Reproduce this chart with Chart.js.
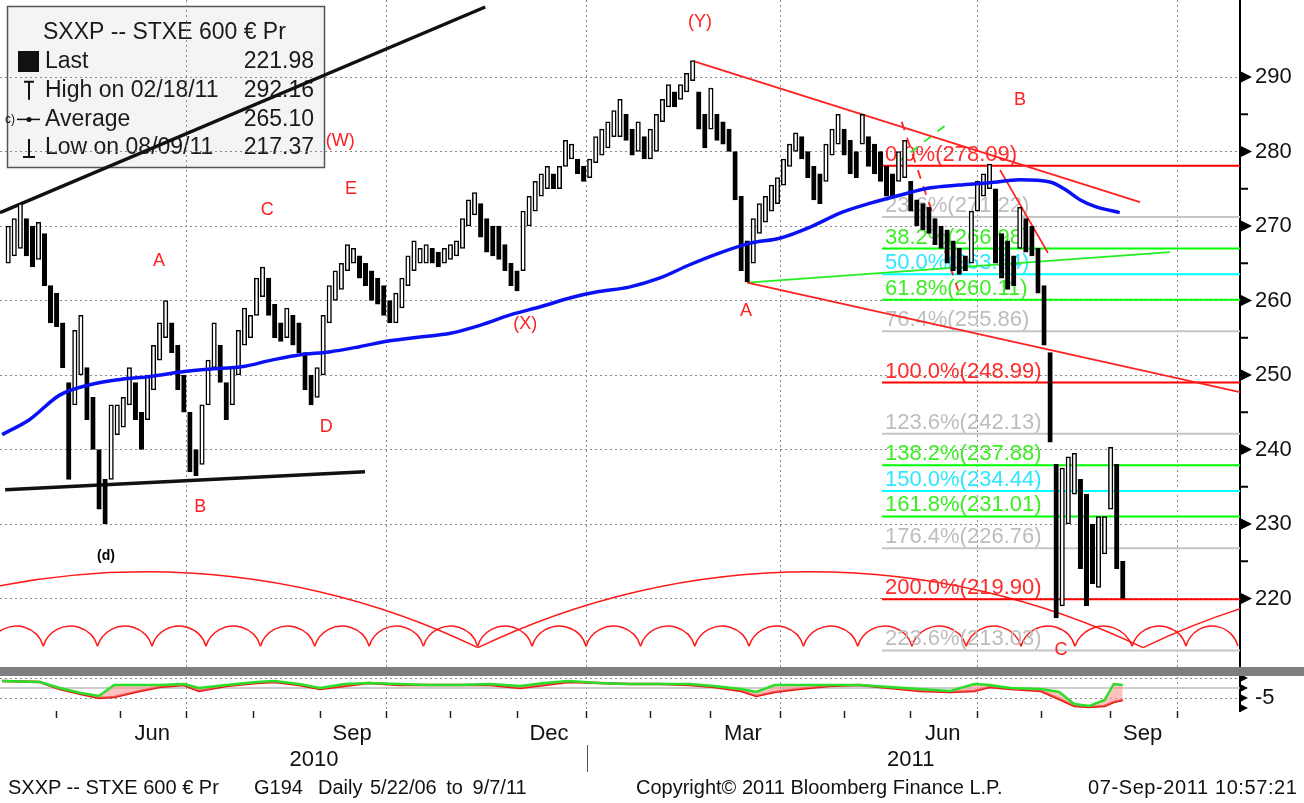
<!DOCTYPE html>
<html>
<head>
<meta charset="utf-8">
<title>SXXP -- STXE 600</title>
<script src="https://cdn.jsdelivr.net/npm/chart.js@4.4.1/dist/chart.umd.min.js"></script>
<style>
  html, body { margin: 0; padding: 0; background: #fff; }
  body { width: 1304px; height: 803px; position: relative; overflow: hidden; font-family: "Liberation Sans", Arial, sans-serif; }
  #priceBox { position: absolute; left: 0; top: 0; width: 1304px; height: 668px; }
  #lowerBox { position: absolute; left: 0; top: 668px; width: 1304px; height: 135px; }
  #splitBar { position: absolute; left: 0; top: 667px; width: 1304px; height: 9px; background: #7f7f7f; }
  .foot { position: absolute; top: 776px; font-size: 20px; color: #111; white-space: nowrap; }
</style>
</head>
<body>
<div id="priceBox"><canvas id="priceChart"></canvas></div>
<div id="lowerBox"><canvas id="lowerChart"></canvas></div>
<div id="splitBar"></div>
<div class="foot" style="left:8px">SXXP -- STXE 600 € Pr</div>
<div class="foot" style="left:254px">G194</div>
<div class="foot" style="left:318px">Daily</div>
<div class="foot" style="left:370px; word-spacing:4px">5/22/06 to 9/7/11</div>
<div class="foot" style="left:636px">Copyright© 2011 Bloomberg Finance L.P.</div>
<div class="foot" style="left:1088px; letter-spacing:0.6px">07-Sep-2011 10:57:21</div>
<script>
// x values are weekday sessions counted from Wed 7 Apr 2010 (session 0)
var firstSession = 2;
var sessionStep = 2;

// high / low of every 2-session step
var priceHigh = [
  270, 271, 273, 271, 270, 270.5, 269, 262, 261, 257, 249, 256, 258, 251, 247, 240, 236, 246, 246, 247,
  251, 249, 245, 250, 254, 257, 260, 257, 254, 250, 245, 240, 246, 252, 257, 254, 249, 251, 256, 259,
  258, 263, 264.5, 263, 259.5, 257, 259, 258, 257, 253, 250, 251, 258, 262, 264, 265, 267.5, 267, 266, 265,
  264, 263, 262, 260, 261, 263, 266, 268, 267, 267.5, 267, 266.5, 267, 267.5, 268, 271, 273.5, 274.5, 273, 271,
  270, 270, 267.5, 265, 264, 272, 274, 276, 277, 278, 277, 278, 281.5, 281, 279, 278, 279, 282, 283, 284,
  285.5, 287, 285, 283, 284, 282, 283, 285, 287, 289, 288, 289, 290.5, 292.2, 288, 285, 288.5, 285, 284, 283,
  280, 274, 268, 271, 273, 274, 275.5, 276.5, 279, 281, 282.5, 282, 280, 278, 277, 281, 283, 285, 283, 281.5,
  280, 285, 282, 281, 280, 278, 277, 280, 281.5, 276, 273.5, 273, 272.5, 271, 270, 269.5, 268, 267, 266, 272,
  276, 277, 278.3, 275, 269, 268, 266, 272.5, 271, 270, 267, 262, 253, 238, 237.5, 239, 239.5, 236, 234, 230,
  231, 231, 240.3, 238, 225
];
var priceLow = [
  265, 266, 267, 266, 264.5, 265.5, 262, 257, 256.5, 251, 236, 246, 250, 244, 240, 232, 230, 236, 242, 243,
  246, 244, 240, 244, 248, 252, 255, 253, 248, 245, 237, 236.5, 238, 246, 251, 249, 244, 246, 250, 254,
  255, 258, 260.5, 258, 255, 254.5, 255, 254, 253, 248, 246, 247, 250, 257, 260, 261.5, 264, 265, 263, 262,
  260, 259.5, 258, 257, 257, 259, 262, 264, 265, 265, 265, 264.5, 265, 265.5, 266, 267, 270, 271.5, 268.5, 266.5,
  266, 265.5, 264, 262, 261.3, 264, 270, 272, 274, 275, 275, 275, 278, 279, 277, 276, 276.5, 278.5, 279.5, 280.5,
  282, 282, 281.5, 279.5, 280, 279, 279, 280, 284, 286, 286, 287, 288, 289.5, 283, 280.5, 283, 281.5, 281, 280,
  273.5, 264, 262.5, 265, 269, 270.5, 272, 273, 275.5, 278, 280, 279, 276.5, 273.5, 273, 276, 279.5, 281, 279.5, 277,
  276.5, 281, 278, 277, 276, 274, 274, 276, 276.5, 272, 270, 269.5, 269, 267.5, 267, 265, 264, 263.5, 264, 265,
  272, 274, 275, 265, 263, 261.5, 262, 267, 266.5, 266, 261, 254, 241, 217.4, 219, 230, 234, 224, 219, 222,
  221.5, 226, 232, 224, 220
];

// 200 day moving average
var maSessions = [0, 9, 19, 29, 39, 49, 59, 69, 79, 89, 98, 108, 118, 128, 138, 148, 158, 168, 178, 188,
  197, 207, 217, 227, 237, 247, 257, 267, 277, 287, 297, 306, 316, 326, 336, 346, 351, 356, 361, 369];
var maValues = [242, 244, 247.3, 248.7, 249.4, 249.8, 250.4, 250.8, 251.1, 252, 252.7, 253.1, 253.8, 254.6, 255.1, 255.6, 256.7, 258.1, 259.2, 260.4,
  261.2, 261.8, 263, 264.8, 266.4, 267.7, 268.4, 269.9, 271.8, 273.1, 274.2, 275.1, 275.5, 275.8, 276.2, 275.9, 274.9, 273.5, 272.6, 271.8];

var monthSessions = [18, 39, 61, 83, 105, 127, 148, 170, 193, 214, 234, 257, 278, 300, 322, 343, 366, 388];
var monthNames = ['May', 'Jun', 'Jul', 'Aug', 'Sep', 'Oct', 'Nov', 'Dec', 'Jan', 'Feb', 'Mar', 'Apr', 'May', 'Jun', 'Jul', 'Aug', 'Sep', 'Oct'];
var labelMonths = ['Mar', 'Jun', 'Sep', 'Dec'];
var quarterSessions = [61, 127, 193, 257, 322, 388];
var yearNames = ['2010', '2011'];
var yearSessions = [103, 300];
var yearBreak = 193;
var sessionMin = -0.7;
var sessionMax = 408.7;

var priceTicks = [220, 230, 240, 250, 260, 270, 280, 290];
var priceMinor = [225, 235, 245, 255, 265, 275, 285];

var fibPct = [0, 23.6, 38.2, 50, 61.8, 76.4, 100, 123.6, 138.2, 150, 161.8, 176.4, 200, 223.6];
var fibLevels = [278.09, 271.22, 266.98, 263.54, 260.11, 255.86, 248.99, 242.13, 237.88, 234.44, 231.01, 226.76, 219.90, 213.03];
var fibStart = 290.5;

// hand drawn lines [session, price]
var channelTop = [[-0.7, 271.8], [159.5, 299.4]];
var channelBottom = [[1, 234.6], [119.8, 237.0]];
var fallFromY = [[228.5, 292.1], [375.7, 273.2]];
var fallFromA = [[246, 262.4], [408.7, 247.7]];
var riseFromA = [[246, 262.4], [385.6, 266.5]];
var julyLine = [[329.5, 277.5], [345.3, 266.4]];
var mayDash = [[297, 284], [315.6, 261.4]];
var mayGreenDash = [[295.5, 278.5], [311.7, 283.6]];

var waveText = ['(Y)', '(W)', 'E', 'C', 'A', 'D', 'B', '(X)', 'A', 'B', 'C'];
var waveSessions = [230.4, 111.6, 115.2, 87.5, 51.8, 107, 65.4, 172.7, 245.6, 336.1, 349.6];
var wavePrices = [297.4, 281.4, 274.9, 272.2, 265.3, 243.0, 232.3, 256.9, 258.6, 286.9, 213.1];
var cycleTag = '(d)';
var cycleTagSession = 34.3;
var cycleTagPrice = 225.7;

// cycle troughs
var smallCycles = [-4.3, 13.6, 31.5, 49.5, 67.3, 85.3, 103.2, 121.2, 139.1, 157, 175, 192.8, 210.8, 228.7,
  246.6, 264.6, 282.5, 300.4, 318.3, 336.4, 354.2, 373.1, 390.9, 408];
var smallCycleLow = 213.6;
var smallCycleTop = 216.3;
var bigCycles = [-62.4, 157.1, 376.7, 596];
var bigCycleLow = 213.4;
var bigCycleTop = 223.6;

// lower study
var lowerSessions = [0, 12.5, 19, 26, 32, 37, 44, 52, 60, 65, 74, 84, 90, 98, 105, 113, 121, 131, 141, 151,
  161, 171, 179, 187, 197, 207, 217, 227, 235, 244, 249, 255, 263, 273, 283, 293, 303, 313, 321, 326,
  333, 343, 349, 354, 359, 364, 367, 370];
var lowerRed = [-0.75, -1, -2.75, -4, -5, -4.75, -3.5, -2.25, -1.75, -3.25, -2, -1.25, -1, -1.75, -2.75, -2, -1.25, -1.75, -1.75, -1.75,
  -1.75, -2.5, -1.75, -1, -1.25, -1.5, -1.5, -1.75, -2.25, -3.25, -4.5, -3.5, -2.75, -2, -1.75, -2.5, -3.25, -3.5, -3.25, -2.25,
  -2.75, -3.25, -5.25, -7, -7.25, -7, -6, -5.5];
var lowerGreen = [-0.75, -1, -2.5, -3.75, -4.5, -1.75, -1.75, -1.75, -1.5, -2.5, -1.75, -1, -0.75, -1.5, -2.5, -1.5, -1.25, -1.5, -1.75, -1.75,
  -1.5, -2, -1.25, -0.75, -1.25, -1.5, -1.5, -1.5, -2, -2.75, -3.5, -1.75, -1.75, -1.75, -1.75, -2.25, -2.75, -3.25, -1.5, -1.75,
  -2.5, -2.75, -3.5, -6.5, -7, -5.5, -1.5, -1.75];
var lowerTicks = [0, -2.5, -5, -7.5];
var lowerMid = -2.5;

var legendTitle = 'SXXP -- STXE 600 € Pr';
var legendNames = ['Last', 'High on 02/18/11', 'Average', 'Low on 08/09/11'];
var legendValues = ['221.98', '292.16', '265.10', '217.37'];

var FONT = '"Liberation Sans", Arial, sans-serif';
Chart.defaults.font.family = FONT;

function pts(pairs) {
    return pairs.map(function (p) { return { x: p[0], y: p[1] }; });
}
function fibColor(pct, text) {
    var f = Math.round((pct % 100) * 10) / 10;
    if (f === 0) return text ? '#ff2b2b' : '#ff0000';
    if (f === 50) return text ? '#2ee6ff' : '#00ffff';
    if (f === 38.2 || f === 61.8) return text ? '#3aee22' : '#00ff00';
    return text ? '#bdbdbd' : '#c4c4c4';
}
function lineSet(pairs, color, width, order, dash) {
    return {
        type: 'line', data: pts(pairs), borderColor: color, borderWidth: width,
        pointRadius: 0, fill: false, order: order, borderDash: dash || []
    };
}
function noPad(s) {
    s.paddingTop = 0; s.paddingBottom = 0; s.paddingLeft = 0; s.paddingRight = 0;
}
function drawArc(ctx, x1, x2, yLow, yTop) {
    var c = (x2 - x1) / 2, s = yLow - yTop;
    var r = (c * c + s * s) / (2 * s);
    var cx = (x1 + x2) / 2, cy = yTop + r;
    var a1 = Math.atan2(yLow - cy, x1 - cx), a2 = Math.atan2(yLow - cy, x2 - cx);
    ctx.beginPath();
    ctx.arc(cx, cy, r, a1, a2, false);
    ctx.stroke();
}
function drawLegendIcon(ctx, i, x, y) {
    ctx.save();
    ctx.strokeStyle = '#111';
    ctx.fillStyle = '#111';
    ctx.lineWidth = 2;
    if (i === 0) {
        ctx.fillRect(x - 11, y - 11, 21, 21);
    } else if (i === 1) {
        ctx.beginPath();
        ctx.moveTo(x - 5, y - 9); ctx.lineTo(x + 5, y - 9);
        ctx.moveTo(x, y - 9); ctx.lineTo(x, y + 9);
        ctx.stroke();
    } else if (i === 2) {
        ctx.font = '12px ' + FONT;
        ctx.textAlign = 'left';
        ctx.textBaseline = 'middle';
        ctx.fillText('c)', x - 24, y);
        ctx.lineWidth = 1.5;
        ctx.beginPath(); ctx.moveTo(x - 12, y); ctx.lineTo(x + 11, y); ctx.stroke();
        ctx.beginPath(); ctx.arc(x, y, 2.5, 0, Math.PI * 2); ctx.fill();
    } else {
        ctx.beginPath();
        ctx.moveTo(x, y - 9); ctx.lineTo(x, y + 9);
        ctx.moveTo(x - 6, y + 9); ctx.lineTo(x + 6, y + 9);
        ctx.stroke();
    }
    ctx.restore();
}
function drawAxisMarks(chart, scale, majors, minors, size) {
    var ctx = chart.ctx, r = chart.chartArea.right;
    ctx.save();
    ctx.fillStyle = '#000';
    ctx.strokeStyle = '#000';
    majors.forEach(function (v) {
        var y = scale.getPixelForValue(v);
        ctx.beginPath();
        ctx.moveTo(r, y - size / 2); ctx.lineTo(r + size, y); ctx.lineTo(r, y + size / 2);
        ctx.closePath(); ctx.fill();
    });
    ctx.lineWidth = 2;
    minors.forEach(function (v) {
        var y = scale.getPixelForValue(v);
        ctx.beginPath(); ctx.moveTo(r, y); ctx.lineTo(r + 8, y); ctx.stroke();
    });
    ctx.restore();
}

var priceDecor = {
    id: 'priceDecor',
    beforeDraw: function (chart) {
        var ctx = chart.ctx;
        ctx.save();
        ctx.fillStyle = '#f4f4f4';
        ctx.fillRect(7, 6, 318, 162);
        ctx.strokeStyle = '#555';
        ctx.lineWidth = 1.5;
        ctx.strokeRect(7.5, 6.5, 317, 161);
        ctx.fillStyle = '#1a1a1a';
        ctx.textBaseline = 'middle';
        ctx.font = '23px ' + FONT;
        ctx.textAlign = 'left';
        ctx.fillText(legendTitle, 43, 33);
        for (var i = 0; i < legendNames.length; i++) {
            var y = 62 + i * 28.7;
            ctx.textAlign = 'left';
            ctx.fillText(legendNames[i], 45, y);
            ctx.textAlign = 'right';
            ctx.fillText(legendValues[i], 314, y);
            drawLegendIcon(ctx, i, 29, y);
        }
        ctx.restore();
    },
    beforeDatasetsDraw: function (chart) {
        var ctx = chart.ctx, a = chart.chartArea;
        var xs = chart.scales.x, ys = chart.scales.y;
        ctx.save();
        ctx.beginPath();
        ctx.rect(a.left, a.top, a.right - a.left, a.bottom - a.top);
        ctx.clip();
        ctx.strokeStyle = '#ff1a1a';
        ctx.lineWidth = 1.5;
        var i;
        for (i = 0; i < smallCycles.length - 1; i++) {
            drawArc(ctx, xs.getPixelForValue(smallCycles[i]), xs.getPixelForValue(smallCycles[i + 1]),
                ys.getPixelForValue(smallCycleLow), ys.getPixelForValue(smallCycleTop));
        }
        for (i = 0; i < bigCycles.length - 1; i++) {
            drawArc(ctx, xs.getPixelForValue(bigCycles[i]), xs.getPixelForValue(bigCycles[i + 1]),
                ys.getPixelForValue(bigCycleLow), ys.getPixelForValue(bigCycleTop));
        }
        // fibonacci labels
        ctx.font = '22px ' + FONT;
        ctx.textAlign = 'left';
        ctx.textBaseline = 'alphabetic';
        var x0 = xs.getPixelForValue(fibStart) + 3;
        fibLevels.forEach(function (lvl, k) {
            ctx.fillStyle = fibColor(fibPct[k], true);
            ctx.fillText(fibPct[k].toFixed(1) + '%(' + lvl.toFixed(2) + ')', x0, ys.getPixelForValue(lvl) - 5);
        });
        ctx.restore();
    },
    afterDatasetsDraw: function (chart) {
        var ctx = chart.ctx, xs = chart.scales.x, ys = chart.scales.y;
        ctx.save();
        ctx.fillStyle = '#ff2020';
        ctx.font = '18px ' + FONT;
        ctx.textAlign = 'center';
        ctx.textBaseline = 'middle';
        waveText.forEach(function (t, k) {
            ctx.fillText(t, xs.getPixelForValue(waveSessions[k]), ys.getPixelForValue(wavePrices[k]));
        });
        ctx.fillStyle = '#000';
        ctx.font = 'bold 14px ' + FONT;
        ctx.fillText(cycleTag, xs.getPixelForValue(cycleTagSession), ys.getPixelForValue(cycleTagPrice));
        ctx.restore();
    },
    afterDraw: function (chart) {
        drawAxisMarks(chart, chart.scales.y, priceTicks, priceMinor, 12);
    }
};

var sessions = priceHigh.map(function (h, i) { return firstSession + i * sessionStep; });
var candleData = priceHigh.map(function (h, i) { return { x: sessions[i], y: [priceLow[i], h] }; });
// falling steps are drawn as filled candles, rising ones hollow
var candleFill = priceHigh.map(function (h, i) {
    if (i === 0) return '#fff';
    return (h + priceLow[i]) < (priceHigh[i - 1] + priceLow[i - 1]) ? '#000' : '#fff';
});

var priceSets = [];
fibLevels.forEach(function (lvl, k) {
    priceSets.push(lineSet([[fibStart, lvl], [sessionMax, lvl]], fibColor(fibPct[k], false), 2, 20));
});
priceSets.push(lineSet(channelTop, '#111', 3.5, 6));
priceSets.push(lineSet(channelBottom, '#111', 3.5, 6));
priceSets.push(lineSet(fallFromY, '#ff2020', 1.8, 6));
priceSets.push(lineSet(fallFromA, '#ff2020', 1.8, 6));
priceSets.push(lineSet(riseFromA, '#22ee22', 1.8, 6));
priceSets.push(lineSet(julyLine, '#ff2020', 1.8, 6));
priceSets.push(lineSet(mayDash, '#ff2020', 1.8, 6, [9, 8]));
priceSets.push(lineSet(mayGreenDash, '#22ee22', 1.8, 6, [9, 8]));
priceSets.push({
    type: 'line', data: maSessions.map(function (s, i) { return { x: s, y: maValues[i] }; }),
    borderColor: '#0a12f5', borderWidth: 3.5, pointRadius: 0, fill: false,
    cubicInterpolationMode: 'monotone', order: 1
});
priceSets.push({
    type: 'bar', data: candleData, backgroundColor: candleFill, borderColor: '#000',
    borderWidth: 1.5, borderSkipped: false, barThickness: 4.5, order: 2
});

var oPriceChart = new Chart(document.getElementById('priceChart'), {
    type: 'bar',
    data: { datasets: priceSets },
    options: {
        responsive: true,
        maintainAspectRatio: false,
        animation: false,
        events: [],
        layout: { padding: 0 },
        plugins: { legend: { display: false }, tooltip: { enabled: false } },
        scales: {
            x: {
                type: 'linear', min: sessionMin, max: sessionMax, offset: false,
                afterBuildTicks: function (s) { s.ticks = quarterSessions.map(function (v) { return { value: v }; }); },
                afterFit: function (s) { s.height = 0; noPad(s); },
                ticks: { display: false },
                grid: { color: '#8a8a8a', lineWidth: 1, drawTicks: false, offset: false },
                border: { display: false, dash: [2, 3] }
            },
            y: {
                position: 'right', min: 210.67, max: 300.34, bounds: 'data',
                afterBuildTicks: function (s) { s.ticks = priceTicks.map(function (v) { return { value: v }; }); },
                afterFit: function (s) { s.width = 64; noPad(s); },
                ticks: { padding: 15, color: '#111', font: { size: 22 } },
                grid: { color: '#8a8a8a', lineWidth: 1, drawTicks: false },
                border: { display: true, color: '#000', width: 2, dash: [2, 3] }
            }
        }
    },
    plugins: [priceDecor]
});

var lowerDecor = {
    id: 'lowerDecor',
    afterDraw: function (chart) {
        var ctx = chart.ctx, xs = chart.scales.x;
        drawAxisMarks(chart, chart.scales.y, lowerTicks, [], 8);
        ctx.save();
        ctx.fillStyle = '#111';
        ctx.font = '22px ' + FONT;
        ctx.textAlign = 'center';
        ctx.textBaseline = 'middle';
        yearNames.forEach(function (t, k) {
            ctx.fillText(t, xs.getPixelForValue(yearSessions[k]), 92);
        });
        var xb = Math.round(xs.getPixelForValue(yearBreak)) + 0.5;
        ctx.strokeStyle = '#555';
        ctx.lineWidth = 1;
        ctx.beginPath(); ctx.moveTo(xb, 77); ctx.lineTo(xb, 104); ctx.stroke();
        ctx.restore();
    }
};

var oLowerChart = new Chart(document.getElementById('lowerChart'), {
    type: 'line',
    data: {
        datasets: [
            {
                data: lowerSessions.map(function (s, i) { return { x: s, y: lowerRed[i] }; }),
                borderColor: '#ee1515', borderWidth: 2.5, pointRadius: 0, fill: false, order: 2
            },
            {
                data: lowerSessions.map(function (s, i) { return { x: s, y: lowerGreen[i] }; }),
                borderColor: '#2adf2a', borderWidth: 2.5, pointRadius: 0, order: 1,
                fill: { target: 0, above: 'rgba(255,150,150,0.6)', below: 'rgba(130,230,130,0.6)' }
            },
            {
                data: [{ x: sessionMin, y: lowerMid }, { x: sessionMax, y: lowerMid }],
                borderColor: '#bdbdbd', borderWidth: 1.5, pointRadius: 0, fill: false, order: 3
            }
        ]
    },
    options: {
        responsive: true,
        maintainAspectRatio: false,
        animation: false,
        events: [],
        layout: { padding: { top: 9, bottom: 52, left: 0, right: 0 } },
        plugins: { legend: { display: false }, tooltip: { enabled: false } },
        scales: {
            x: {
                type: 'linear', min: sessionMin, max: sessionMax, offset: false,
                afterBuildTicks: function (s) { s.ticks = monthSessions.map(function (v) { return { value: v }; }); },
                afterFit: function (s) { s.height = 40; noPad(s); },
                ticks: {
                    autoSkip: false, maxRotation: 0, minRotation: 0, labelOffset: 32, padding: 3,
                    color: '#111', font: { size: 22 },
                    callback: function (v, i) {
                        return labelMonths.indexOf(monthNames[i]) >= 0 ? monthNames[i] : '';
                    }
                },
                grid: {
                    color: function (c) {
                        return c.tick && quarterSessions.indexOf(c.tick.value) >= 0 ? '#8a8a8a' : 'rgba(0,0,0,0)';
                    },
                    tickColor: '#222', tickLength: 7, tickWidth: 1.5, drawTicks: true
                },
                border: { display: false, dash: [2, 3] }
            },
            y: {
                position: 'right', min: -8.25, max: 0.25,
                afterBuildTicks: function (s) { s.ticks = lowerTicks.map(function (v) { return { value: v }; }); },
                afterFit: function (s) { s.width = 64; noPad(s); },
                ticks: {
                    padding: 15, color: '#111', font: { size: 22 },
                    callback: function (v) { return v === -5 ? '-5' : ''; }
                },
                grid: { color: '#8a8a8a', lineWidth: 1, drawTicks: false },
                border: { display: true, color: '#000', width: 2, dash: [2, 3] }
            }
        }
    },
    plugins: [lowerDecor]
});
</script>
</body>
</html>
